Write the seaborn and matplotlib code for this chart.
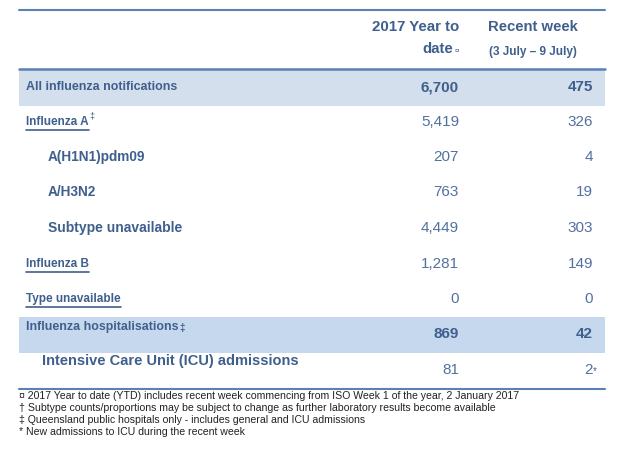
import matplotlib.pyplot as plt
import seaborn as sns

# --- DONNEES ---
ROW_LABELS = ["All influenza notifications", "Influenza A", "A(H1N1)pdm09", "A/H3N2",
              "Subtype unavailable", "Influenza B", "Type unavailable",
              "Influenza hospitalisations", "Intensive Care Unit (ICU) admissions"]
YTD_VALUES = ["6,700", "5,419", "207", "763", "4,449", "1,281", "0", "869", "81"]
WEEK_VALUES = ["475", "326", "4", "19", "303", "149", "0", "42", "2"]
FOOTNOTES = ["¤ 2017 Year to date (YTD) includes recent week commencing from ISO Week 1 of the year, 2 January 2017",
             "† Subtype counts/proportions may be subject to change as further laboratory results become available",
             "‡ Queensland public hospitals only - includes general and ICU admissions",
             "* New admissions to ICU during the recent week"]

DARK = "#3f5f8c"
VALUE = "#5271a0"
LINE = "#5b80b3"


def draw_table():
    """Dessine le tableau (Viz)"""
    sns.set_theme(style="white")
    plt.rcParams['font.family'] = ['Liberation Sans', 'DejaVu Sans']

    fig = plt.figure(figsize=(6.21, 4.49), dpi=100)
    ax = fig.add_axes([0, 0, 1, 1])
    ax.set_xlim(0, 621)
    ax.set_ylim(449, 0)
    ax.axis("off")

    # Bandeaux colores
    ax.axhspan(69, 106, xmin=19 / 621, xmax=605 / 621, color="#d3dfec", lw=0)
    ax.axhspan(317, 353, xmin=19 / 621, xmax=605 / 621, color="#c6d8ee", lw=0)
    for y, w in [(10, 1.5), (69, 1.8), (389, 1.5)]:
        ax.plot([19, 605], [y, y], color=LINE, lw=w)

    # En-tetes
    ax.text(459, 27, "2017 Year to", ha="right", va="center", fontsize=10.8, weight="bold", color=DARK)
    ax.text(453, 49, "date", ha="right", va="center", fontsize=10.8, weight="bold", color=DARK)
    ax.text(459, 51, "¤", ha="right", va="center", fontsize=6, color=DARK)
    ax.text(533, 27, "Recent week", ha="center", va="center", fontsize=10.7, weight="bold", color=DARK)
    ax.text(533, 52, "(3 July – 9 July)", ha="center", va="center", fontsize=8.5, weight="bold", color=DARK)

    label_y = [87, 122, 157, 192, 228, 264, 299, 327, 361]
    value_y = [87, 122, 157, 192, 228, 264, 299, 334, 370]
    label_x = [26, 26, 48, 48, 48, 26, 26, 26, 42]
    sizes = [8.9, 8.5, 9.8, 9.8, 10, 8.5, 8.5, 8.9, 10.5]
    underline = [False, True, False, False, False, True, True, False, False]
    bold_vals = [True, False, False, False, False, False, False, True, False]

    fig.canvas.draw()
    renderer = fig.canvas.get_renderer()
    inv = ax.transData.inverted()
    for i, label in enumerate(ROW_LABELS):
        t = ax.text(label_x[i], label_y[i], label, ha="left", va="center", fontsize=sizes[i],
                    weight="bold", color=DARK)
        bb = t.get_window_extent(renderer)
        x1 = inv.transform((bb.x1, bb.y0))[0]
        if underline[i]:
            ax.plot([label_x[i], x1], [label_y[i] + 8, label_y[i] + 8], color=DARK, lw=1.2)
        if i == 1:
            ax.text(x1 + 1, label_y[i] - 6, "‡", fontsize=6.5, color=DARK, va="center")
        if i == 7:
            ax.text(x1 + 1, label_y[i] + 1, "‡", fontsize=7, color=DARK, va="center", weight="bold")
        w = "bold" if bold_vals[i] else "normal"
        ax.text(459, value_y[i], YTD_VALUES[i], ha="right", va="center", fontsize=11,
                weight=w, color=DARK if bold_vals[i] else VALUE)
        ax.text(593, value_y[i], WEEK_VALUES[i], ha="right", va="center", fontsize=11,
                weight=w, color=DARK if bold_vals[i] else VALUE)
    ax.text(593, 371, "*", ha="left", va="center", fontsize=7, color=DARK)

    # Notes de bas de tableau
    for j, note in enumerate(FOOTNOTES):
        ax.text(19, 396 + 12 * j, note, ha="left", va="center", fontsize=7.6, color="#222222")

    fig.savefig("out.png", dpi=100)


# --- LANCEMENT ---
if __name__ == "__main__":
    draw_table()
